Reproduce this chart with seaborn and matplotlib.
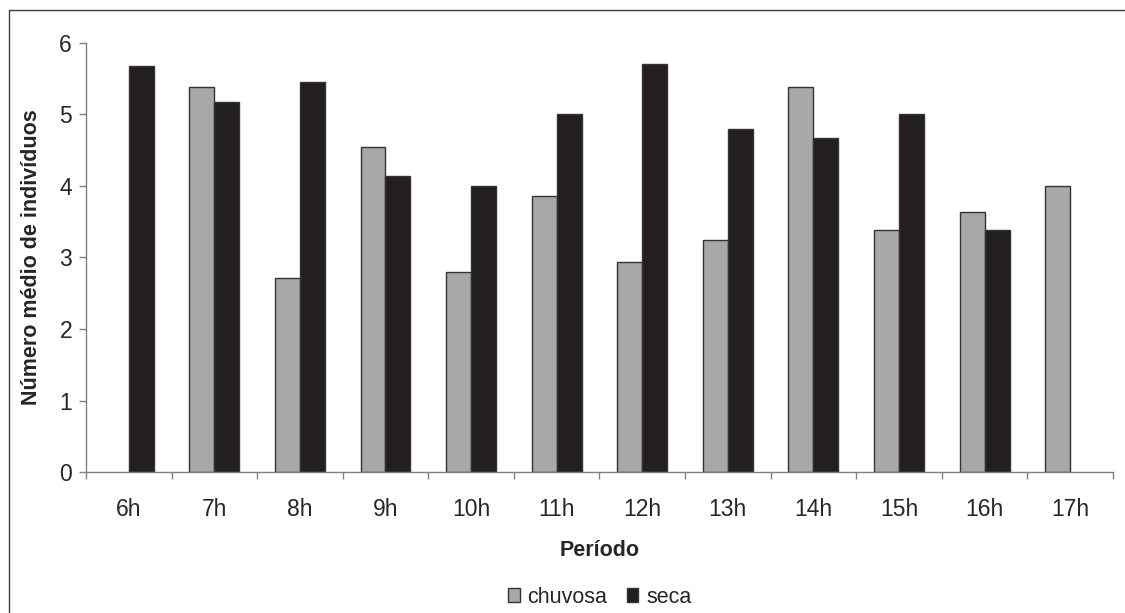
import matplotlib
matplotlib.use('Agg')
import numpy as np
import pandas as pd
import matplotlib.pyplot as plt
from matplotlib.lines import Line2D
import seaborn as sns

periods = ['6h', '7h', '8h', '9h', '10h', '11h', '12h', '13h', '14h', '15h', '16h', '17h']
# no bar drawn for 6h (chuvosa) and 17h (seca)
chuvosa = [np.nan, 5.39, 2.71, 4.55, 2.80, 3.86, 2.93, 3.25, 5.39, 3.39, 3.63, 4.00]
seca = [5.68, 5.17, 5.46, 4.14, 4.00, 5.00, 5.70, 4.80, 4.67, 5.00, 3.39, np.nan]
seasons = ['chuvosa', 'seca']
colors = {'chuvosa': '#a8a8a8', 'seca': '#231f20'}

df = pd.DataFrame({
    'periodo': periods * 2,
    'valor': chuvosa + seca,
    'estacao': ['chuvosa'] * len(periods) + ['seca'] * len(periods),
})

sns.set_theme(style='white')
plt.rcParams['font.family'] = ['Liberation Sans', 'DejaVu Sans']

fig = plt.figure(figsize=(11.25, 6.13), dpi=100)
ax = fig.add_axes([0.0764, 0.2300, 0.9129, 0.6999])

sns.barplot(data=df, x='periodo', y='valor', hue='estacao', hue_order=seasons,
            order=periods, palette=colors, width=0.584, errorbar=None,
            edgecolor='#333333', linewidth=1, saturation=1, ax=ax)

ax.set_xlim(-0.5, len(periods) - 0.5)
ax.set_ylim(0, 6)
ax.set_yticks(range(0, 7))
ax.tick_params(axis='y', which='major', length=5, width=1, color='#808080',
               direction='out', labelsize=16.5, pad=5, left=True)
ax.set_xticks(np.arange(len(periods)))
ax.set_xticklabels(periods)
ax.set_xticks(np.arange(-0.5, len(periods)), minor=True)
ax.tick_params(axis='x', which='major', length=0, labelsize=16.5, pad=19)
ax.tick_params(axis='x', which='minor', length=5, width=1, color='#808080',
               direction='out', bottom=True)

for side in ['top', 'right']:
    ax.spines[side].set_visible(False)
for side in ['left', 'bottom']:
    ax.spines[side].set_color('#808080')
    ax.spines[side].set_linewidth(1)

ax.set_ylabel('Número médio de indivíduos', fontsize=15.5, fontweight='bold')
ax.yaxis.set_label_coords(-0.0428, 0.5)
ax.set_xlabel('Período', fontsize=15.5, fontweight='bold')
ax.xaxis.set_label_coords(0.5, -0.1585)

handles, labels = ax.get_legend_handles_labels()
if ax.get_legend() is not None:
    ax.get_legend().remove()
fig.legend(handles, labels, loc='center', bbox_to_anchor=(0.533, 0.026),
           ncol=2, frameon=False, fontsize=15.5, handlelength=0.55, handleheight=0.6,
           handletextpad=0.35, columnspacing=0.9)

# chart area border (cut at right and bottom in the original)
fig.add_artist(Line2D([9 / 1125, 1], [1 - 10 / 613] * 2, transform=fig.transFigure,
                      color='#404040', lw=1))
fig.add_artist(Line2D([9 / 1125] * 2, [0, 1 - 10 / 613], transform=fig.transFigure,
                      color='#404040', lw=1))

fig.savefig('out.png', dpi=100)
